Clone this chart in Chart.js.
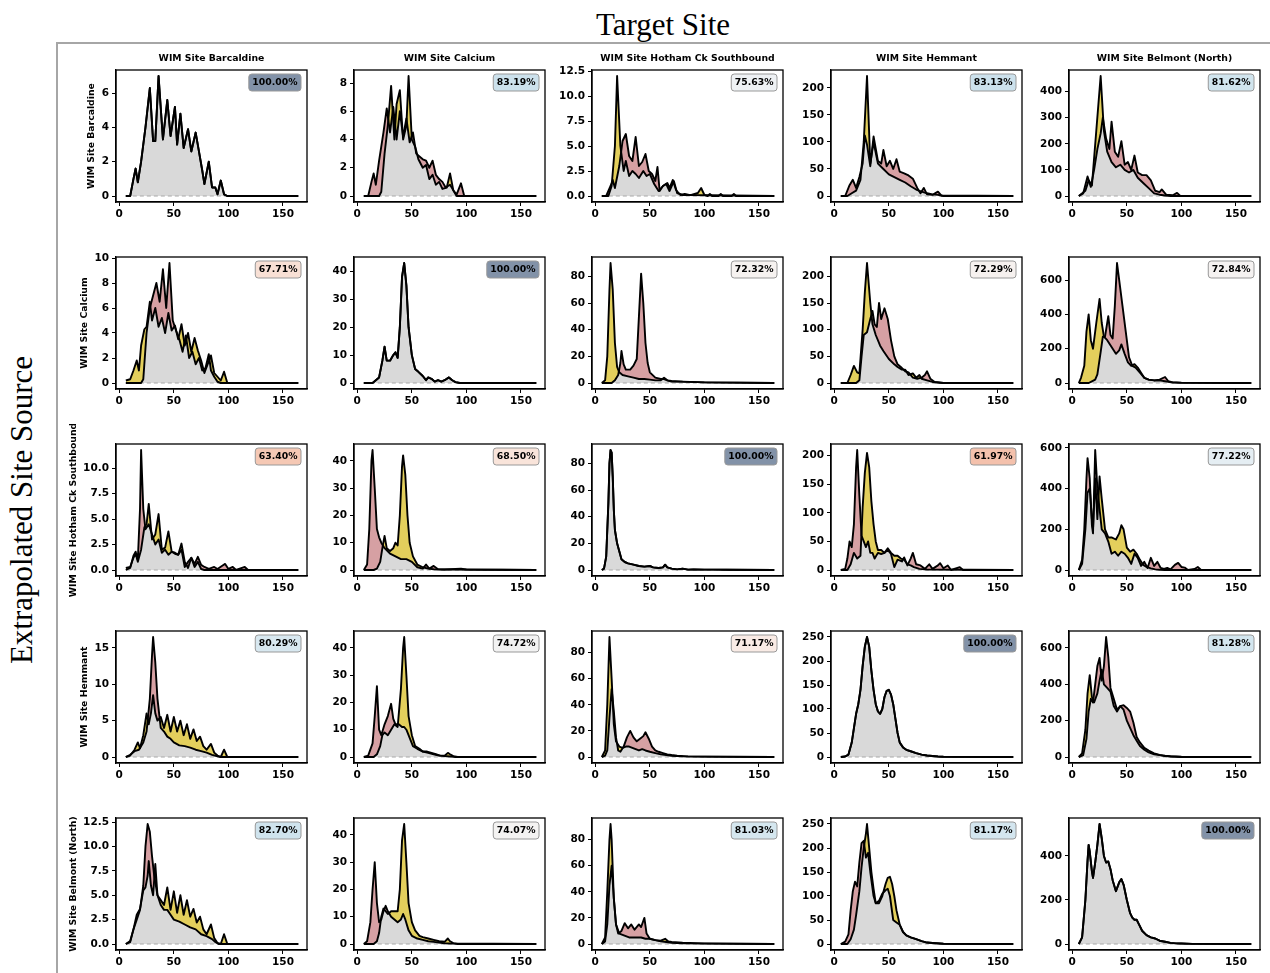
<!DOCTYPE html>
<html>
<head>
<meta charset="utf-8">
<script src="https://cdn.jsdelivr.net/npm/chart.js@4.4.1/dist/chart.umd.min.js"></script>
<style>
  body { margin: 0; background: #fff; width: 1270px; height: 973px; position: relative; overflow: hidden; }
  canvas { position: absolute; }
  .title { position: absolute; font-family: 'Liberation Serif', serif; font-size: 31px; color: #000; white-space: nowrap; }
  .frame { position: absolute; background: #a6a6a6; }
</style>
</head>
<body>
<div class="title" style="left:663px; top:25px; transform: translate(-50%, -50%);">Target Site</div>
<div class="title" style="left:22px; top:510px; transform: translate(-50%, -50%) rotate(-90deg);">Extrapolated Site Source</div>
<div class="frame" style="left:57px; top:42px; width:1213px; height:2px;"></div>
<div class="frame" style="left:56px; top:42px; width:2px; height:931px;"></div>
<script>
const sites = ['WIM Site Barcaldine', 'WIM Site Calcium', 'WIM Site Hotham Ck Southbound', 'WIM Site Hemmant', 'WIM Site Belmont (North)'];
const xTicks = [0, 50, 100, 150];

// overlap score, rows = extrapolated source, columns = target
const overlapPct = [
  ['100.00%', '83.19%', '75.63%', '83.13%', '81.62%'],
  ['67.71%', '100.00%', '72.32%', '72.29%', '72.84%'],
  ['63.40%', '68.50%', '100.00%', '61.97%', '77.22%'],
  ['80.29%', '74.72%', '71.17%', '100.00%', '81.28%'],
  ['82.70%', '74.07%', '81.03%', '81.17%', '100.00%']
];

const yTicks = [
  [[0, 2, 4, 6], [0, 2, 4, 6, 8], [0, 2.5, 5, 7.5, 10, 12.5], [0, 50, 100, 150, 200], [0, 100, 200, 300, 400]],
  [[0, 2, 4, 6, 8, 10], [0, 10, 20, 30, 40], [0, 20, 40, 60, 80], [0, 50, 100, 150, 200], [0, 200, 400, 600]],
  [[0, 2.5, 5, 7.5, 10], [0, 10, 20, 30, 40], [0, 20, 40, 60, 80], [0, 50, 100, 150, 200], [0, 200, 400, 600]],
  [[0, 5, 10, 15], [0, 10, 20, 30, 40], [0, 20, 40, 60, 80], [0, 50, 100, 150, 200, 250], [0, 200, 400, 600]],
  [[0, 2.5, 5, 7.5, 10, 12.5], [0, 10, 20, 30, 40], [0, 20, 40, 60, 80], [0, 50, 100, 150, 200, 250], [0, 200, 400]]
];

// ---- row 1: source Barcaldine ----
const r1c1Both = [[6,0],[10,0],[13,1.0],[15,1.6],[17,0.8],[20,2],[24,4],[28,6.3],[31,3.2],[33,3.2],[36,7.0],[40,3.3],[44,5.6],[47,3.5],[51,5.2],[53,3.0],[56,4.8],[59,2.8],[63,3.9],[66,2.6],[70,3.7],[73,2.6],[76,1.5],[78,0.7],[82,2.0],[85,0.5],[88,0.5],[90,0.1],[93,0.9],[96,0.1],[99,0],[164,0]];
const r1c2Src = [[6,0],[10,0],[13,1.0],[15,1.6],[17,0.8],[20,2.5],[24,4.5],[27,6.2],[30,4.5],[33,6.3],[36,4.0],[39,6.0],[42,4.2],[45,5.5],[48,3.8],[51,4.5],[54,3.0],[57,2.8],[60,2.6],[63,2.5],[66,2.0],[69,2.5],[72,1.5],[75,1.2],[78,1.0],[81,0.6],[85,0.8],[88,0.4],[91,0.1],[95,0.9],[98,0],[164,0]];
const r1c2Tgt = [[6,0],[20,0],[22,0.3],[25,3],[28,5],[31,7.8],[34,4],[36,6.5],[39,7.5],[42,4],[45,5],[47,8.5],[50,4],[53,3.5],[56,2.6],[60,2],[63,2.2],[66,1.2],[69,1.5],[72,0.8],[75,1.0],[78,0.5],[82,0.6],[85,1.6],[88,0.4],[91,0],[164,0]];
const r1c3Src = [[6,0],[10,0],[14,1.0],[16,1.6],[18,0.8],[22,3],[25,5.5],[28,6.2],[31,4.0],[34,3.5],[37,5.9],[40,3.0],[43,3.4],[46,4.2],[49,2.5],[52,2.2],[55,1.5],[57,2.9],[59,0.5],[62,1.0],[66,1.3],[68,0.8],[71,1.6],[74,0.6],[78,0.1],[82,0.2],[86,0.1],[164,0]];
const r1c3Tgt = [[6,0],[12,0],[15,1.0],[18,5],[20,12],[23,5],[26,2.5],[28,3.5],[31,2.0],[34,2.5],[37,2.2],[40,1.8],[44,2.5],[47,2.0],[50,2.2],[54,1.2],[58,0.5],[62,1.0],[65,1.2],[68,0.5],[72,1.5],[75,0.3],[80,0.1],[88,0.1],[94,0.3],[97,0.8],[100,0.1],[103,0],[105,0.2],[107,0],[113,0],[115,0.2],[117,0],[125,0],[127,0.2],[129,0],[164,0]];
const r1c4Src = [[6,0],[10,0],[14,20],[17,30],[20,15],[23,35],[26,60],[28,112],[30,95],[33,55],[36,110],[40,65],[43,60],[45,85],[48,55],[51,65],[54,50],[57,68],[60,45],[64,42],[68,38],[72,32],[76,15],[79,5],[82,15],[85,3],[90,2],[95,8],[98,1],[164,0]];
const r1c4Tgt = [[6,0],[12,0],[16,5],[20,10],[24,30],[27,100],[30,222],[33,60],[36,100],[40,60],[45,50],[50,40],[55,35],[60,30],[65,25],[70,18],[75,12],[80,8],[85,5],[90,3],[95,2],[100,0],[164,0]];
const r1c5Src = [[6,0],[10,10],[14,75],[17,35],[20,100],[23,180],[26,240],[28,300],[31,220],[34,180],[36,285],[39,170],[42,150],[45,210],[48,120],[51,130],[54,100],[57,155],[60,90],[64,80],[68,80],[72,60],[76,20],[80,15],[82,25],[86,5],[92,3],[96,12],[99,0],[164,0]];
const r1c5Tgt = [[6,0],[12,20],[15,60],[18,40],[22,250],[26,460],[29,250],[32,170],[36,130],[40,110],[44,120],[48,100],[52,90],[56,100],[60,70],[65,50],[70,30],[75,10],[80,5],[85,2],[90,0],[164,0]];

// ---- row 2: source Calcium ----
const r2c1Src = [[6,0],[20,0],[22,0.3],[25,4],[28,6],[31,7.0],[34,8.0],[37,6.5],[40,9.1],[43,6.0],[46,9.6],[49,5.0],[52,4.2],[55,3.5],[58,2.5],[61,3.8],[64,2.0],[67,2.5],[70,1.5],[73,2.0],[76,1.0],[79,1.2],[82,2.3],[84,1.0],[87,0.5],[90,0.1],[93,0],[164,0]];
const r2c1Tgt = [[6,0.2],[10,0.3],[13,1.0],[16,1.8],[18,1.0],[20,3],[23,4.3],[25,4.5],[28,6.5],[30,5],[33,6.0],[36,4.5],[39,5.2],[42,4.0],[45,5.6],[48,4.2],[51,4.6],[54,3.5],[57,4.7],[60,3.0],[63,4.0],[66,2.5],[69,3.6],[72,2.6],[75,1.8],[78,0.8],[81,1.5],[84,2.2],[87,0.8],[90,0.5],[93,0.2],[96,0.9],[99,0],[164,0]];
const r2c2Both = [[6,0],[14,0],[17,1],[20,2],[23,8],[25,13],[27,8],[30,8],[33,10],[35,11],[37,9],[39,20],[41,38],[43,43],[45,35],[47,20],[50,10],[53,5],[56,4],[60,2.5],[63,1],[65,2],[68,1.5],[71,0.5],[74,1],[77,0.5],[80,1],[84,2],[87,1],[90,0.3],[94,0],[164,0]];
const r2c3Src = [[6,0],[15,0],[18,2],[21,6],[23,15],[24,24],[26,14],[28,10],[32,10],[35,13],[38,18],[40,50],[42,82],[44,60],[46,30],[48,15],[50,8],[55,4],[60,3],[63,3],[66,2],[70,1],[80,1],[100,0.5],[164,0]];
const r2c3Tgt = [[6,0],[9,2],[11,20],[13,70],[14,90],[16,70],[18,30],[20,12],[22,8],[25,6],[30,5],[35,4],[40,3],[45,3],[50,2.5],[55,2],[60,2],[63,4],[66,2],[70,1.5],[80,1],[100,0.5],[130,0.3],[164,0]];
const r2c4Src = [[6,0],[20,0],[23,5],[25,50],[27,90],[30,95],[33,120],[35,135],[37,110],[39,105],[41,150],[43,120],[46,140],[49,120],[52,80],[55,50],[58,35],[62,28],[65,22],[68,20],[72,10],[76,8],[80,10],[83,15],[85,22],[88,8],[92,2],[100,0],[164,0]];
const r2c4Tgt = [[6,0],[12,0],[15,15],[18,32],[21,20],[23,18],[26,100],[28,170],[30,225],[33,150],[35,110],[38,90],[42,70],[45,60],[50,45],[55,35],[58,30],[62,25],[65,25],[68,15],[72,18],[75,10],[78,15],[80,8],[85,5],[90,2],[100,0],[164,0]];
const r2c5Src = [[6,0],[15,0],[18,10],[21,20],[23,50],[26,180],[28,270],[30,270],[33,390],[35,280],[37,260],[39,450],[41,700],[43,600],[46,450],[49,300],[52,150],[55,100],[58,90],[62,60],[66,30],[70,20],[75,15],[80,20],[85,35],[88,10],[92,3],[100,1],[164,0]];
const r2c5Tgt = [[6,0],[8,30],[11,100],[13,300],[15,400],[17,250],[19,200],[22,350],[25,490],[27,350],[29,270],[32,250],[36,210],[40,170],[43,190],[45,225],[48,170],[51,120],[54,100],[57,110],[60,90],[63,60],[66,30],[70,20],[75,15],[80,15],[85,10],[90,5],[100,2],[164,0]];

// ---- row 3: source Hotham Ck Southbound ----
const r3c1Src = [[6,0],[10,0.2],[13,1.4],[15,1.8],[17,1.0],[19,6],[20,11.8],[22,6],[24,4.0],[27,4.5],[30,3.5],[33,2.5],[36,3.0],[39,1.7],[42,2.0],[45,1.5],[48,1.8],[51,1.6],[54,1.5],[57,2.0],[60,0.3],[63,0.8],[66,1.2],[69,0.6],[72,1.3],[75,0.5],[78,0.3],[82,0.1],[87,0.3],[90,0.1],[94,0.4],[97,0.6],[100,0.1],[104,0.3],[107,0],[115,0.3],[118,0],[164,0]];
const r3c1Tgt = [[6,0.2],[10,0.3],[13,1.2],[15,1.6],[17,0.8],[20,2.0],[23,4.2],[25,4.5],[27,6.5],[30,3.0],[33,3.5],[36,5.5],[39,2.0],[42,2.2],[45,3.8],[48,1.8],[51,1.7],[54,1.5],[57,2.6],[60,0.8],[63,0.2],[66,1.2],[69,0.3],[72,0.8],[75,0.1],[78,0],[164,0]];
const r3c2Src = [[6,0],[9,2],[11,15],[13,40],[14,44],[16,30],[18,15],[20,12],[22,10],[25,8],[30,6],[35,5],[40,4],[45,4],[50,3],[55,1],[60,0.5],[63,2],[66,0.5],[70,1.5],[74,0.3],[80,0.2],[95,0.5],[100,0.2],[164,0]];
const r3c2Tgt = [[6,0],[15,0],[18,0.5],[21,3],[23,8],[25,12.5],[27,8],[30,7],[33,8],[35,10],[37,9],[39,20],[41,38],[42,42],[44,35],[46,20],[48,10],[51,5],[55,2],[60,1],[65,0.5],[70,0.3],[80,0.2],[164,0]];
const r3c3Both = [[6,0],[8,1],[10,10],[12,50],[13,80],[14,90],[15,88],[16,70],[17,45],[18,30],[20,20],[22,14],[24,8],[27,6],[30,5],[35,4],[40,3],[45,2.5],[50,3],[53,2],[58,1.5],[62,2],[64,4],[66,2],[70,1],[75,0.5],[80,1],[85,0.3],[90,0.5],[100,0.3],[110,0.3],[120,0.2],[164,0]];
const r3c4Src = [[6,0],[10,2],[12,20],[14,50],[16,40],[18,80],[20,180],[21,210],[23,130],[25,60],[27,50],[29,40],[31,50],[33,30],[35,30],[37,20],[40,30],[43,28],[46,30],[49,35],[52,28],[55,5],[58,18],[62,15],[64,22],[67,8],[70,20],[72,30],[75,10],[79,8],[83,2],[87,10],[90,2],[95,8],[97,12],[100,3],[104,8],[107,0],[115,5],[118,0],[164,0]];
const r3c4Tgt = [[6,0],[12,0],[15,10],[18,30],[21,20],[24,25],[26,110],[28,170],[30,205],[32,180],[34,120],[36,80],[38,50],[40,35],[43,35],[46,30],[49,38],[52,30],[55,25],[58,25],[61,20],[64,18],[67,10],[70,8],[73,5],[78,2],[85,1],[164,0]];
const r3c5Src = [[6,0],[9,50],[11,200],[13,450],[14,550],[16,450],[18,220],[19,180],[21,590],[23,400],[25,300],[27,200],[30,180],[33,140],[36,80],[39,90],[42,70],[45,90],[48,80],[51,60],[54,30],[57,80],[60,60],[63,20],[66,40],[69,10],[72,60],[75,20],[78,40],[81,10],[84,5],[87,10],[90,3],[94,25],[97,35],[100,15],[103,12],[106,0],[112,5],[115,15],[118,0],[164,0]];
const r3c5Tgt = [[6,0],[9,30],[12,200],[14,380],[16,400],[18,250],[19,200],[21,450],[23,250],[25,460],[27,350],[30,200],[33,160],[36,160],[40,150],[43,180],[45,220],[47,200],[50,110],[53,90],[56,100],[59,80],[62,50],[65,25],[68,15],[72,8],[76,3],[80,1],[85,0],[164,0]];

// ---- row 4: source Hemmant ----
const r4c1Src = [[6,0],[10,0.3],[14,0.8],[18,1.0],[22,2],[25,3.5],[28,8],[30,14],[31,16.5],[33,13],[35,8],[38,4],[41,3.5],[44,2.8],[47,2.5],[50,2.0],[55,1.6],[60,1.5],[65,1.3],[70,1.0],[75,0.8],[80,0.6],[85,0.3],[90,0.1],[93,0],[164,0]];
const r4c1Tgt = [[6,0],[10,0.2],[14,1.0],[17,2.0],[19,1.2],[22,3],[25,6.0],[27,4.5],[29,6],[31,8.5],[33,6],[35,5],[38,5.5],[41,4.0],[44,5.8],[47,3.5],[50,5.5],[53,3.5],[56,5.0],[59,3.0],[62,4.5],[65,2.5],[68,3.8],[71,2.2],[74,2.8],[77,1.5],[80,1.0],[84,1.8],[87,0.6],[90,0.2],[93,0],[96,1.0],[99,0],[164,0]];
const r4c2Src = [[6,0],[10,0.5],[14,5],[16,15],[18,26],[20,10],[22,8],[25,12],[28,15],[31,19.5],[33,14],[35,12],[38,12],[41,11],[43,11],[45,10],[48,7],[51,4],[55,3],[60,2],[64,2],[68,1.5],[72,1],[76,0.5],[82,0.3],[86,0.2],[90,0],[164,0]];
const r4c2Tgt = [[6,0],[15,0],[18,1],[21,4],[23,8],[25,9],[28,8],[31,10],[34,12],[37,11],[40,25],[42,40],[43,44],[45,30],[47,15],[50,8],[53,4],[57,3],[60,2],[65,1.5],[70,1],[75,0.5],[80,0.5],[83,1.5],[85,1],[88,0.3],[92,0],[164,0]];
const r4c3Src = [[6,0],[9,1],[11,5],[13,30],[15,52],[17,35],[19,15],[21,5],[23,4],[26,8],[29,15],[32,20],[35,15],[38,12],[41,14],[44,16],[46,19],[49,14],[52,8],[55,5],[58,4],[62,3],[66,2],[70,1.5],[75,1],[85,0.5],[100,0.3],[164,0]];
const r4c3Tgt = [[6,0],[9,5],[11,40],[13,92],[15,60],[17,25],[19,12],[22,8],[25,7],[28,8],[31,8],[34,7],[37,6],[40,5],[43,6],[46,5],[50,4],[55,3],[60,2],[65,1.5],[70,1],[80,0.5],[100,0.3],[164,0]];
const r4c4Both = [[6,0],[10,1],[13,5],[16,30],[18,60],[20,90],[22,110],[24,140],[26,190],[28,230],[30,250],[32,230],[34,180],[36,140],[38,110],[40,95],[42,90],[44,100],[46,125],[48,138],[50,140],[52,130],[54,110],[56,80],[58,50],[60,30],[63,20],[66,15],[70,12],[75,8],[80,5],[85,3],[90,2],[95,1],[100,0.5],[164,0]];
const r4c5Src = [[6,0],[10,10],[13,100],[15,250],[17,320],[19,300],[21,400],[23,500],[25,545],[27,420],[29,500],[31,660],[33,550],[35,380],[38,320],[41,260],[44,280],[47,285],[50,270],[53,250],[56,190],[59,110],[62,80],[66,50],[70,35],[75,20],[80,12],[85,7],[90,4],[100,1],[164,0]];
const r4c5Tgt = [[6,0],[9,20],[12,150],[14,350],[16,450],[18,330],[20,300],[23,350],[25,420],[27,480],[29,400],[32,380],[35,360],[38,280],[41,250],[44,280],[47,260],[50,200],[53,160],[56,120],[59,90],[62,60],[66,40],[70,25],[75,15],[80,10],[85,5],[90,3],[100,0],[164,0]];

// ---- row 5: source Belmont (North) ----
const r5c1Src = [[6,0],[10,0.3],[13,1.5],[16,2.5],[19,3.5],[22,6],[24,10],[26,12.3],[28,11.5],[30,9],[32,7],[35,5],[38,4],[41,3.5],[44,3.5],[47,3.0],[50,2.5],[55,2.3],[60,2.0],[65,1.7],[70,1.5],[75,1.0],[80,0.8],[85,0.5],[88,0.2],[91,0],[164,0]];
const r5c1Tgt = [[6,0],[10,0.2],[13,1.5],[16,3],[19,3.6],[22,5.5],[24,5.8],[26,7],[27,8.5],[29,6],[31,5],[33,8.2],[35,5],[38,4.5],[41,4],[44,5.8],[47,3.5],[50,5.4],[53,3.2],[56,5.0],[59,3.0],[62,4.5],[65,2.8],[68,3.6],[71,2.2],[74,2.8],[77,1.5],[80,1.0],[84,2.0],[87,0.6],[90,0.1],[93,0],[96,1.0],[99,0],[164,0]];
const r5c2Src = [[6,0],[9,1],[12,8],[14,20],[16,30],[18,15],[20,8],[22,9],[24,12],[26,14],[28,12],[31,10],[34,9],[37,8],[40,9],[42,11],[44,9],[47,5],[50,3],[55,2],[60,1.5],[65,1],[70,0.8],[75,0.5],[80,0.3],[85,0.2],[164,0]];
const r5c2Tgt = [[6,0],[15,0],[18,1],[20,4],[22,10],[24,13],[26,12],[28,11],[31,12],[34,12],[37,12],[39,20],[41,38],[43,44],[45,30],[47,15],[50,8],[53,5],[57,3],[60,2.5],[65,2],[70,1.5],[75,1],[80,0.8],[83,2],[85,1],[88,0.3],[92,0],[164,0]];
const r5c3Src = [[6,0],[9,2],[11,15],[13,45],[15,60],[17,35],[19,15],[21,8],[24,10],[27,16],[30,12],[33,15],[36,11],[40,15],[42,13],[45,20],[47,8],[50,4],[55,3],[60,2],[65,1.5],[70,1],[80,0.5],[100,0.3],[164,0]];
const r5c3Tgt = [[6,0],[9,5],[11,40],[13,80],[14,92],[15,80],[17,35],[19,15],[22,8],[25,7],[28,6],[31,5],[34,5],[38,5],[42,5],[46,4],[50,4],[55,3],[60,2.5],[64,4],[67,2],[70,1.5],[80,1],[100,0.5],[164,0]];
const r5c4Src = [[6,0],[10,5],[13,20],[15,70],[17,110],[19,130],[21,120],[23,170],[25,210],[27,215],[29,180],[31,190],[33,150],[36,100],[38,85],[41,90],[44,105],[47,112],[49,115],[51,100],[54,50],[57,45],[60,40],[63,25],[66,18],[70,14],[75,10],[80,6],[85,3],[90,2],[100,0.5],[164,0]];
const r5c4Tgt = [[6,0],[12,0],[15,10],[18,30],[20,60],[23,110],[25,160],[27,200],[29,230],[30,250],[32,200],[34,150],[36,115],[38,85],[41,85],[44,100],[47,125],[49,138],[51,140],[53,125],[55,100],[57,70],[60,40],[63,25],[66,18],[70,14],[75,10],[80,6],[85,3],[90,2],[100,0.5],[164,0]];
const r5c5Both = [[6,0],[9,30],[12,200],[14,380],[15,450],[16,420],[18,330],[19,300],[21,370],[23,450],[25,545],[27,480],[29,400],[31,370],[33,375],[35,340],[37,290],[40,240],[43,280],[45,295],[47,270],[50,200],[53,140],[55,120],[57,110],[59,110],[61,90],[64,60],[68,40],[72,30],[76,25],[80,15],[85,10],[90,5],[95,3],[100,2],[110,0.5],[164,0]];

const panels = [
  [[r1c1Both, r1c1Both], [r1c2Src, r1c2Tgt], [r1c3Src, r1c3Tgt], [r1c4Src, r1c4Tgt], [r1c5Src, r1c5Tgt]],
  [[r2c1Src, r2c1Tgt], [r2c2Both, r2c2Both], [r2c3Src, r2c3Tgt], [r2c4Src, r2c4Tgt], [r2c5Src, r2c5Tgt]],
  [[r3c1Src, r3c1Tgt], [r3c2Src, r3c2Tgt], [r3c3Both, r3c3Both], [r3c4Src, r3c4Tgt], [r3c5Src, r3c5Tgt]],
  [[r4c1Src, r4c1Tgt], [r4c2Src, r4c2Tgt], [r4c3Src, r4c3Tgt], [r4c4Both, r4c4Both], [r4c5Src, r4c5Tgt]],
  [[r5c1Src, r5c1Tgt], [r5c2Src, r5c2Tgt], [r5c3Src, r5c3Tgt], [r5c4Src, r5c4Tgt], [r5c5Both, r5c5Both]]
];

// label box colours (diverging map, diagonal in slate)
const boxColors = [
  ['#8292a8', '#cce1ec', '#eef1f4', '#cce1ec', '#d1e5ee'],
  ['#f8e0d5', '#8292a8', '#f6f2f0', '#f6f1ef', '#f5f2f1'],
  ['#f5c8b4', '#f9e4da', '#8292a8', '#f4c1ac', '#e5eef3'],
  ['#d8e8f0', '#f2f2f2', '#f9ebe5', '#8292a8', '#d3e6ef'],
  ['#cfe3ed', '#f4f3f2', '#d5e7ef', '#d4e6ef', '#8292a8']
];

const RED = '#d6a0a3';
const YELLOW = '#e3cf5c';
const GRAY = '#d9d9d9';
const FONT = "'DejaVu Sans', sans-serif";
const LINE_W = 1.9;

Chart.defaults.font.family = FONT;
Chart.defaults.font.weight = 'bold';
Chart.defaults.color = '#000';

const PLOT_W = 191, PLOT_H = 132;
const Y_AXIS_W = 66, PAD_TOP = 20, PAD_RIGHT = 6, X_AXIS_H = 28;

const decorPlugin = {
  id: 'decor',
  afterDatasetsDraw(chart, args, opts) {
    const {ctx, chartArea: a} = chart;
    ctx.save();
    ctx.strokeStyle = '#000';
    ctx.lineWidth = 1.3;
    ctx.strokeRect(a.left, a.top, a.right - a.left, a.bottom - a.top);

    // overlap label box
    ctx.font = 'bold 9.3px ' + FONT;
    const txt = opts.label;
    const tw = ctx.measureText(txt).width;
    const bw = tw + 7, bh = 17;
    const bx = a.right - 6 - bw, by = a.top + 4;
    ctx.beginPath();
    ctx.roundRect(bx, by, bw, bh, 3);
    ctx.fillStyle = opts.boxColor;
    ctx.fill();
    ctx.strokeStyle = '#999';
    ctx.lineWidth = 1;
    ctx.stroke();
    ctx.fillStyle = '#000';
    ctx.textAlign = 'center';
    ctx.textBaseline = 'middle';
    ctx.fillText(txt, bx + bw / 2, by + bh / 2 + 0.5);

    if (opts.colTitle) {
      ctx.font = 'bold 9.3px ' + FONT;
      ctx.fillText(opts.colTitle, (a.left + a.right) / 2, a.top - 11);
    }
    if (opts.rowTitle) {
      ctx.font = 'bold 10.5px ' + FONT;
      const yScale = chart.scales.y;
      let maxW = 0;
      yScale.ticks.forEach(t => { maxW = Math.max(maxW, ctx.measureText(String(t.label)).width); });
      ctx.font = 'bold 9.3px ' + FONT;
      const x = a.left - 4 - 3 - maxW - 10;
      ctx.translate(x, (a.top + a.bottom) / 2);
      ctx.rotate(-Math.PI / 2);
      ctx.fillText(opts.rowTitle, 0, 0);
    }
    ctx.restore();
  }
};

function toPoints(arr) {
  return arr.map(p => ({x: p[0], y: p[1]}));
}

function makePanel(r, c) {
  const [src, tgt] = panels[r][c];
  const ticks = yTicks[r][c];
  const decimals = ticks.some(v => v % 1 !== 0) ? 1 : 0;
  const peak = Math.max(...src.map(p => p[1]), ...tgt.map(p => p[1]));
  const boxLeft = Math.round(116 + 238.2 * c);
  const boxTop = 70 + 187 * r;

  const canvas = document.createElement('canvas');
  canvas.width = Y_AXIS_W + PLOT_W + PAD_RIGHT;
  canvas.height = PAD_TOP + PLOT_H + X_AXIS_H;
  canvas.style.left = (boxLeft - Y_AXIS_W) + 'px';
  canvas.style.top = (boxTop - PAD_TOP) + 'px';
  document.body.appendChild(canvas);

  const sameCurve = src === tgt;
  new Chart(canvas, {
    type: 'line',
    data: {
      datasets: [
        {
          data: toPoints(src),
          borderColor: '#000',
          borderWidth: LINE_W,
          borderJoinStyle: 'round',
          pointRadius: 0,
          tension: 0,
          fill: sameCurve ? false : {target: 1, above: RED, below: YELLOW}
        },
        {
          data: toPoints(tgt),
          borderColor: '#000',
          borderWidth: LINE_W,
          borderJoinStyle: 'round',
          pointRadius: 0,
          tension: 0,
          backgroundColor: GRAY,
          fill: 'origin'
        },
        {
          data: [{x: 6, y: 0}, {x: 164, y: 0}],
          borderColor: '#a8a8a8',
          borderWidth: 1,
          borderDash: [4, 3],
          pointRadius: 0,
          fill: false
        }
      ]
    },
    options: {
      responsive: false,
      animation: false,
      events: [],
      layout: {padding: {top: PAD_TOP, right: PAD_RIGHT, left: 0, bottom: 0}},
      plugins: {
        legend: {display: false},
        tooltip: {enabled: false},
        filler: {drawTime: 'beforeDatasetsDraw'},
        decor: {
          label: overlapPct[r][c],
          boxColor: boxColors[r][c],
          colTitle: r === 0 ? sites[c] : null,
          rowTitle: c === 0 ? sites[r] : null
        }
      },
      scales: {
        x: {
          type: 'linear',
          min: -3,
          max: 172,
          afterBuildTicks: s => { s.ticks = xTicks.map(v => ({value: v})); },
          afterFit: s => { s.height = X_AXIS_H; },
          grid: {drawOnChartArea: false, drawTicks: true, tickLength: 4, color: '#000'},
          border: {display: true, color: '#000', width: 1.3},
          ticks: {font: {size: 10.5, weight: 'bold'}, color: '#000', maxRotation: 0, padding: 2, autoSkip: false}
        },
        y: {
          type: 'linear',
          min: -0.05 * peak,
          max: 1.05 * peak,
          afterBuildTicks: s => { s.ticks = ticks.map(v => ({value: v})); },
          afterFit: s => { s.width = Y_AXIS_W; },
          grid: {drawOnChartArea: false, drawTicks: true, tickLength: 4, color: '#000'},
          border: {display: true, color: '#000', width: 1.3},
          ticks: {
            font: {size: 10.5, weight: 'bold'},
            color: '#000',
            padding: 3,
            autoSkip: false,
            callback: v => Number(v).toFixed(decimals)
          }
        }
      }
    },
    plugins: [decorPlugin]
  });
}

for (let r = 0; r < 5; r++) {
  for (let c = 0; c < 5; c++) {
    makePanel(r, c);
  }
}
</script>
</body>
</html>
